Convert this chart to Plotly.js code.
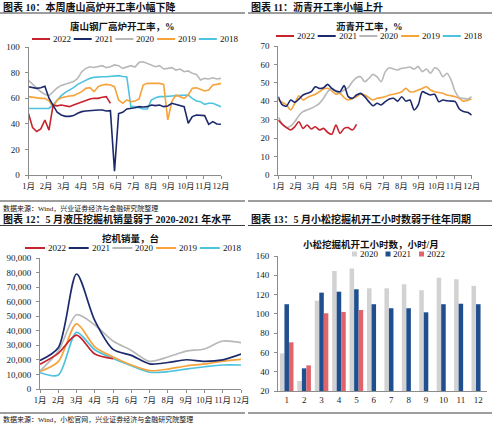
<!DOCTYPE html>
<html><head><meta charset="utf-8">
<script src="https://cdn.plot.ly/plotly-3.0.1.min.js"></script>
<style>html,body{margin:0;padding:0;background:#fff}#chart{width:492px;height:424px}</style>
</head><body><div id="chart"></div>
<script>
// ---------- DATA ----------
const months = ['1月','2月','3月','4月','5月','6月','7月','8月','9月','10月','11月','12月'];
const yearNames = ['2022','2021','2020','2019','2018'];

// Chart 10: Tangshan blast furnace utilisation (weekly, %)
const blast2022 = [48,37,34,36,43,35,54.5,54,54.7,53.9,53.4,54.7,56,57.3,58.6,59.4,59.9,59.9,60.7,61.2,56];
const blast2021 = [69,68.5,67.7,68.2,69.3,60,55,49,46.9,45.8,45.8,46.4,48.2,49.5,50,50.3,50.8,50.8,50.8,50,50.3,3,48,49,51.6,52,52.6,53.4,53.1,53.4,54.7,54.2,54.7,53.4,53.9,56,55.2,54.7,53.4,40.4,45.6,46.9,46.9,46.4,39.6,41.7,39.8,39.6];
const blast2020 = [74,71,68,65,63,62,65,68,70,71,72,73,75.5,80.7,83.3,84.6,84,84.6,85.4,83.9,84.6,86,85.4,83.3,84.4,85.4,84.4,88,88.5,87.2,86.5,84.6,85.4,82.8,83.3,83.9,82,82.8,80.7,81.3,79.4,78.6,74.2,75.5,75,76,75,75.5];
const blast2019 = [61.2,60.7,60.4,59.9,59.9,58,53,58.6,60.4,61.2,61.7,62,63.8,65.1,67.7,68.2,65.1,69,70.3,70.8,70.3,69,58.6,56,58.6,57.3,57.8,59.4,70.3,71.6,71.6,71.6,71.6,70.8,43,57.3,62.5,61.2,59.9,62.5,67.7,68.2,67.2,65.6,66.4,70.3,70.8,71.6];
const blast2018 = [52,52,52,52,52,52,54.7,58.6,62,64.6,66.4,68.2,70.8,72.4,74.2,75.5,76.3,76.8,76.8,76.8,77,77.3,77.6,77,76.6,53.4,53.4,52.6,51.6,51.6,58.6,60.4,61.2,61.2,61.2,61.7,62,62,62.5,62.5,59.9,57.8,57.3,55.2,56,56,54.7,53.4];

// Chart 11: asphalt utilisation (weekly, %)
const asph2022 = [29.8,27.5,25.7,24.4,26.2,28.9,25.3,27.1,25,26.2,24.4,25.3,23.1,22.1,27.1,22.6,25.3,25.7,24.4,27.5];
const asph2021 = [42.5,38,37.4,40.7,39.4,41.2,43.4,44.3,45.2,47.9,47,47.4,49.2,47,45.6,45.2,48.5,42.5,41.6,43.4,44.3,42.5,39.8,37.6,38.9,38,39.8,41.2,41.6,40.1,42.5,40.1,40.7,35.3,38,45.2,44.3,43.4,43.8,39.8,40.7,40.3,40.1,39.8,35.8,34.4,34,32.5];
const asph2020 = [31.6,27.5,25.7,26.6,28.9,32.2,34.4,35.3,36.2,37.4,38.9,41.6,45.2,47,45.2,44.8,46.1,47.4,50.6,52.8,53.3,50.6,52.4,54.6,53.3,50.6,56.1,58.2,57.5,57,57.9,58.2,58.6,57.5,58.8,56.1,57.5,55.2,58.2,57,53.3,55.2,51.5,45.2,42,41.6,41.2,42.5];
const asph2019 = [40.7,39.4,38,35.3,38.9,43,40.7,42,43,43.8,45.2,46.7,47,45.6,43.8,44.3,42,40.7,41.6,42.5,43.8,43.4,42,40.7,41.6,42,42.5,43.4,43.8,44.3,45.2,47,45.2,45.2,46.1,47,47.9,46.1,45.2,44.8,44.3,43.4,43,42.5,41.6,40.1,40.5,41.2];
const asph2018 = [];

// Chart 12: excavator sales (monthly, units)
const sales2022 = [17000,24500,37000,24000,20800];
const sales2021 = [19600,28300,79000,47000,27200,23100,17300,18200,20100,19000,20000,24000];
const sales2020 = [12500,26000,51000,44000,33000,26500,19000,22000,26000,27500,33000,31800];
const sales2019 = [12000,18800,44700,29000,22000,16500,12600,13700,15800,17200,19200,20400];
const sales2018 = [11200,9600,38900,27000,21000,16000,11500,11900,13700,15300,16500,16500];

// Chart 13: Komatsu excavator working hours (hours / month)
const hourMonths = ['1','2','3','4','5','6','7','8','9','10','11','12'];
const hourYears = ['2020','2021','2022'];
const hours2020 = [59,30.4,113.7,144.5,147,126.5,126.5,130.7,124.5,137.5,136,129];
const hours2021 = [110,43.5,122,123,125.5,110,105.8,105.8,101.6,110,110.5,110];
const hours2022 = [70.5,46.6,100.6,102,104];

// ---------- STYLE ----------
const W = 492, H = 424;
const px = x => x / W;
const py = y => 1 - y / H;
const FONT = '"Liberation Serif", "Noto Sans CJK SC", serif';
const lineColors = ['#c8232c', '#1c2a6b', '#b8b8b8', '#f5a33a', '#4dc3df'];
const barColors = ['#d2d2d2', '#1f4f8f', '#e0646a'];
const axisColor = '#8c8c8c';

const weekIdx = n => Array.from({length: n}, (_, i) => i);
const monthNum = n => Array.from({length: n}, (_, i) => i + 1);
const weekTicks = months.map((_, k) => k * 47 / 11);

function lineTrace(y, k, xa, ya, xs, shape, width) {
  return {type: 'scatter', mode: 'lines', x: xs(y.length), y: y, xaxis: xa, yaxis: ya,
    name: yearNames[k], showlegend: false, hoverinfo: 'skip',
    line: {color: lineColors[k], width: width, shape: shape, smoothing: 0.8}};
}

const traces = [];
const blast = [blast2022, blast2021, blast2020, blast2019, blast2018];
[4,3,2,0,1].forEach(k => traces.push(lineTrace(blast[k], k, 'x', 'y', weekIdx, 'linear', 1.6)));
const asph = [asph2022, asph2021, asph2020, asph2019, asph2018];
[4,3,2,1,0].forEach(k => traces.push(lineTrace(asph[k], k, 'x2', 'y2', weekIdx, 'spline', 1.6)));
const sales = [sales2022, sales2021, sales2020, sales2019, sales2018];
[4,3,2,1,0].forEach(k => traces.push(lineTrace(sales[k], k, 'x3', 'y3', monthNum, 'spline', 1.7)));
const hours = [hours2020, hours2021, hours2022];
hours.forEach((h, k) => traces.push({type: 'bar', x: monthNum(h.length), y: h, xaxis: 'x4', yaxis: 'y4',
  name: hourYears[k], showlegend: false, hoverinfo: 'skip', marker: {color: barColors[k], line: {width: 0}}}));

const tickFont = {family: FONT, size: 9, color: '#222'};
function axisBase(extra) {
  return Object.assign({showline: true, linecolor: axisColor, linewidth: 1, ticks: 'outside', ticklen: 3,
    tickcolor: axisColor, showgrid: false, zeroline: false, tickfont: tickFont, fixedrange: true, tickangle: 0}, extra);
}

// ---------- legends / titles (decorations) ----------
const shapes = [];
const annotations = [];
function ann(text, x, y, size, anchor, bold) {
  annotations.push({text: bold ? '<b>' + text + '</b>' : text, x: px(x), y: py(y), xref: 'paper', yref: 'paper',
    xanchor: anchor, yanchor: 'middle', showarrow: false, font: {family: FONT, size: size, color: '#111'}});
}
function hline(x0, x1, y, color, width) {
  shapes.push({type: 'line', xref: 'paper', yref: 'paper', x0: px(x0), x1: px(x1), y0: py(y), y1: py(y),
    line: {color: color, width: width}});
}
function lineLegend(x0, y, step, len) {
  yearNames.forEach((name, k) => {
    const xs = x0 + k * step;
    hline(xs, xs + len, y, lineColors[k], 2);
    ann(name, xs + len + 1, y, 9, 'left', false);
  });
}
lineLegend(32, 39, 41.7, 18);
lineLegend(276, 36, 41.7, 18);
lineLegend(25, 248, 43.7, 20);
hourYears.forEach((name, k) => {
  const xs = 352 + k * 33.5;
  shapes.push({type: 'rect', xref: 'paper', yref: 'paper', x0: px(xs), x1: px(xs + 5), y0: py(256.5), y1: py(251.5),
    fillcolor: barColors[k], line: {width: 0}});
  ann(name, xs + 5.5, 254, 9, 'left', false);
});

ann('图表 10：本周唐山高炉开工率小幅下降', 1, 7, 10, 'left', true);
ann('图表 11：沥青开工率小幅上升', 249, 7, 10, 'left', true);
ann('图表 12：5 月液压挖掘机销量弱于 2020-2021 年水平', 1, 218.5, 10, 'left', true);
ann('图表 13：5 月小松挖掘机开工小时数弱于往年同期', 249, 218.5, 10, 'left', true);
ann('唐山钢厂高炉开工率，%', 122, 26, 9.5, 'center', true);
ann('沥青开工率，%', 369, 26, 9.5, 'center', true);
ann('挖机销量，台', 130, 238, 9.5, 'center', true);
ann('小松挖掘机开工小时数，小时/月', 371, 244, 9.5, 'center', true);
ann('数据来源：Wind，兴业证券经济与金融研究院整理', 1, 208, 7, 'left', false);
ann('数据来源：Wind，小松官网，兴业证券经济与金融研究院整理', 1, 419, 7, 'left', false);

const sep = '#3c3c3c';
hline(0, 245, 13, sep, 1); hline(248, 492, 13, sep, 1);
hline(0, 245, 201, sep, 1); hline(248, 492, 201, sep, 1);
hline(0, 245, 225.5, sep, 1); hline(248, 492, 225.5, sep, 1);
hline(0, 245, 413, sep, 1); hline(248, 492, 413, sep, 1);

const monthFont = {family: FONT, size: 8.5, color: '#222'};
const layout = {
  width: W, height: H, margin: {l: 0, r: 0, t: 0, b: 0}, paper_bgcolor: '#fff', plot_bgcolor: '#fff',
  font: {family: FONT}, showlegend: false, barmode: 'group', bargap: 0.22, bargroupgap: 0,
  xaxis: axisBase({domain: [px(28.5), px(221)], range: [0, 47], tickvals: weekTicks, ticktext: months, anchor: 'y', tickfont: monthFont}),
  yaxis: axisBase({domain: [py(175), py(47)], range: [0, 100], dtick: 20, anchor: 'x', ticklabelstandoff: 3}),
  xaxis2: axisBase({domain: [px(278.3), px(471.7)], range: [0, 47], tickvals: weekTicks, ticktext: months, anchor: 'y2', tickfont: monthFont}),
  yaxis2: axisBase({domain: [py(175), py(46)], range: [0, 70], dtick: 10, anchor: 'x2', ticklabelstandoff: 3}),
  xaxis3: axisBase({domain: [px(40), px(241)], range: [1, 12], tickvals: monthNum(12), ticktext: months, anchor: 'y3', tickfont: monthFont}),
  yaxis3: axisBase({domain: [py(389), py(258)], range: [0, 90000], dtick: 10000, tickformat: ',d', anchor: 'x3', ticklabelstandoff: 3}),
  xaxis4: axisBase({domain: [px(278), px(487)], range: [0.5, 12.5], tickvals: monthNum(12), ticktext: hourMonths, ticks: '', anchor: 'y4'}),
  yaxis4: axisBase({domain: [py(391), py(256)], range: [20, 160], dtick: 20, anchor: 'x4', ticklabelstandoff: 3}),
  shapes: shapes, annotations: annotations
};

Plotly.newPlot('chart', traces, layout, {staticPlot: true, displayModeBar: false});
</script>
</body></html>
